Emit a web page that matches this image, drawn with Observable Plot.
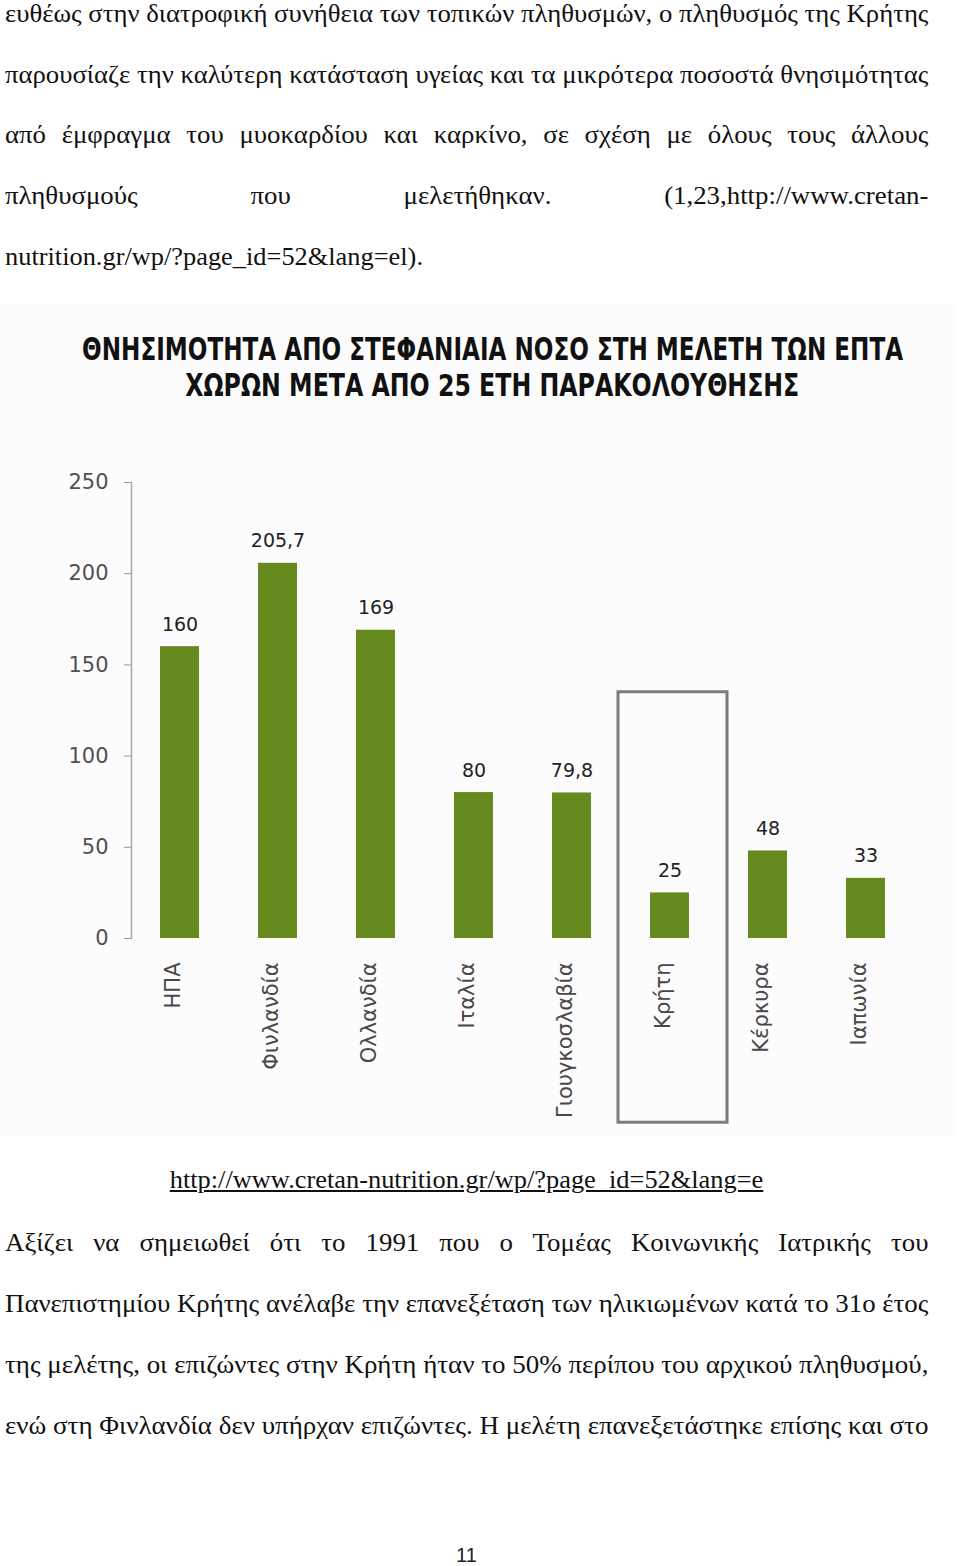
<!DOCTYPE html>
<html>
<head>
<meta charset="utf-8">
<script src="https://cdn.jsdelivr.net/npm/d3@7"></script>
<script src="https://cdn.jsdelivr.net/npm/@observablehq/plot@0.6"></script>
<style>
  html, body { margin: 0; padding: 0; background: #ffffff; }
  body { width: 960px; height: 1566px; position: relative; overflow: hidden; }
  .line { position: absolute; font-family: "Liberation Serif", "Times New Roman", serif; font-size: 25px; line-height: 30px; color: #111; transform-origin: 0 50%; }
  .title { position: absolute; font-family: "DejaVu Sans", sans-serif; font-weight: bold; font-size: 31px; line-height: 40px; color: #111; white-space: nowrap; transform-origin: 50% 50%; }
  #chartbg { position: absolute; left: 0; top: 303px; width: 957px; height: 834px; background: #fcfcfc; }
  #chart { position: absolute; left: 0; top: 440px; }
  #pageno { position: absolute; left: 0; width: 933px; text-align: center; font-family: "Liberation Sans", Arial, sans-serif; font-size: 20px; line-height: 24px; color: #222; }
</style>
</head>
<body>
<div id="chartbg"></div>
<div id="chart"></div>
<script>
// ---- chart data ----
const countries = ["ΗΠΑ", "Φινλανδία", "Ολλανδία", "Ιταλία", "Γιουγκοσλαβία", "Κρήτη", "Κέρκυρα", "Ιαπωνία"];
const mortality = [160, 205.7, 169, 80, 79.8, 25, 48, 33];
const yTicks = [0, 50, 100, 150, 200, 250];
const highlighted = ["Κρήτη"];
const highlightSpan = [-101, 135];
const titleLines = [
  "ΘΝΗΣΙΜΟΤΗΤΑ ΑΠΟ ΣΤΕΦΑΝΙΑΙΑ ΝΟΣΟ ΣΤΗ ΜΕΛΕΤΗ ΤΩΝ ΕΠΤΑ",
  "ΧΩΡΩΝ ΜΕΤΑ ΑΠΟ 25 ΕΤΗ ΠΑΡΑΚΟΛΟΥΘΗΣΗΣ"
];

// ---- page text ----
const para1 = [
  "ευθέως στην διατροφική συνήθεια των τοπικών πληθυσμών, ο πληθυσμός της Κρήτης",
  "παρουσίαζε την καλύτερη κατάσταση υγείας και τα μικρότερα ποσοστά θνησιμότητας",
  "από έμφραγμα του μυοκαρδίου και καρκίνο, σε σχέση με όλους τους άλλους",
  "πληθυσμούς που μελετήθηκαν. (1,23,http://www.cretan-",
  "nutrition.gr/wp/?page_id=52&lang=el)."
];
const para1Modes = ["tight", "tight", "loose", "loose", "left"];
const sourceLink = "http://www.cretan-nutrition.gr/wp/?page_id=52&lang=e";
const para2 = [
  "Αξίζει να σημειωθεί ότι το 1991 που ο Τομέας Κοινωνικής Ιατρικής του",
  "Πανεπιστημίου Κρήτης ανέλαβε την επανεξέταση των ηλικιωμένων κατά το 31ο έτος",
  "της μελέτης, οι επιζώντες στην Κρήτη ήταν το 50% περίπου του αρχικού πληθυσμού,",
  "ενώ στη Φινλανδία δεν υπήρχαν επιζώντες. Η μελέτη επανεξετάστηκε επίσης και στο"
];
const para2Modes = ["loose", "tight", "tight", "tight"];
const pageNumber = "11";

// ---- layout of page text ----
const canvas = document.createElement("canvas");
const ctx = canvas.getContext("2d");
function measure(text, font) { ctx.font = font; return ctx.measureText(text).width; }
const bodyFont = "25px 'Liberation Serif'";
const LEFT = 5, RIGHT = 928, TW = RIGHT - LEFT;
const sLatin = 418 / measure(para1[4], bodyFont);
const tightScales = [];
[[para1, para1Modes], [para2, para2Modes]].forEach(([lines, modes]) =>
  lines.forEach((t, i) => { if (modes[i] === "tight") tightScales.push(TW / measure(t, bodyFont)); }));
const sGreek = d3.mean(tightScales);

function addLine(text, cy, mode) {
  const d = document.createElement("div");
  d.className = "line";
  d.textContent = text;
  d.style.top = (cy - 17.7) + "px";
  const w = measure(text, bodyFont);
  if (mode === "tight" || mode === "loose") {
    const s = mode === "tight" ? TW / w : Math.min(sGreek, TW / w);
    d.style.left = LEFT + "px";
    d.style.width = (TW / s + 0.4) + "px";
    d.style.textAlign = "justify";
    d.style.textAlignLast = "justify";
    d.style.transform = `scaleX(${s})`;
  } else if (mode === "left") {
    d.style.left = LEFT + "px";
    d.style.whiteSpace = "nowrap";
    d.style.transform = `scaleX(${sLatin})`;
  } else {
    d.style.left = "0px";
    d.style.width = "933px";
    d.style.textAlign = "center";
    d.style.whiteSpace = "nowrap";
    d.style.transformOrigin = "466.5px 50%";
    d.style.transform = `scaleX(${sLatin})`;
    d.style.textDecoration = "underline";
  }
  document.body.appendChild(d);
}
const p1y = [17, 77.5, 138, 199, 259.5];
para1.forEach((t, i) => addLine(t, p1y[i], para1Modes[i]));
addLine(sourceLink, 1183, "center");
const p2y = [1246, 1307, 1368, 1429];
para2.forEach((t, i) => addLine(t, p2y[i], para2Modes[i]));

const pn = document.createElement("div");
pn.id = "pageno";
pn.textContent = pageNumber;
pn.style.top = (1555 - 12) + "px";
document.body.appendChild(pn);

// ---- chart title ----
const titleCenters = [348.5, 385];
const titleWidths = [821, 614];
titleLines.forEach((t, i) => {
  const d = document.createElement("div");
  d.className = "title";
  d.textContent = t;
  const w = measure(t, "bold 31px 'DejaVu Sans'");
  d.style.left = (492.5 - w / 2) + "px";
  d.style.width = w + "px";
  d.style.top = (titleCenters[i] - 20) + "px";
  d.style.transform = `scaleX(${titleWidths[i] / w})`;
  document.body.appendChild(d);
});

// ---- chart ----
const data = countries.map((c, i) => ({country: c, value: mortality[i]}));
const chart = Plot.plot({
  width: 960,
  height: 700,
  marginTop: 42,
  marginBottom: 202,
  marginLeft: 131,
  marginRight: 45,
  style: {background: "transparent", fontFamily: "'DejaVu Sans', sans-serif", overflow: "visible"},
  x: {domain: countries, paddingInner: 0.6, paddingOuter: 0.3, axis: null},
  y: {domain: [0, 250], axis: null},
  marks: [
    Plot.frame({anchor: "left", stroke: "#a8a8a8", strokeWidth: 1.5}),
    Plot.axisY({ticks: yTicks, tickSize: 7, tickPadding: 16, stroke: "#999", fill: "#505050", fontSize: 21, label: null}),
    Plot.barY(data, {x: "country", y: "value", fill: "#668a1e"}),
    Plot.text(data, {x: "country", y: "value", text: d => String(d.value).replace(".", ","), dy: -22, fontSize: 19, fill: "#222", fontFamily: "'DejaVu Sans', sans-serif"}),
    Plot.barY(highlighted, {x: d => d, y1: () => highlightSpan[0], y2: () => highlightSpan[1], fill: "none", stroke: "#7b7b7b", strokeWidth: 3, insetLeft: -32, insetRight: -38}),
    Plot.text(countries, {x: d => d, frameAnchor: "bottom", rotate: -90, textAnchor: "end", dy: 24, fontSize: 21, fill: "#484848"})
  ]
});
document.getElementById("chart").appendChild(chart);
</script>
</body>
</html>
